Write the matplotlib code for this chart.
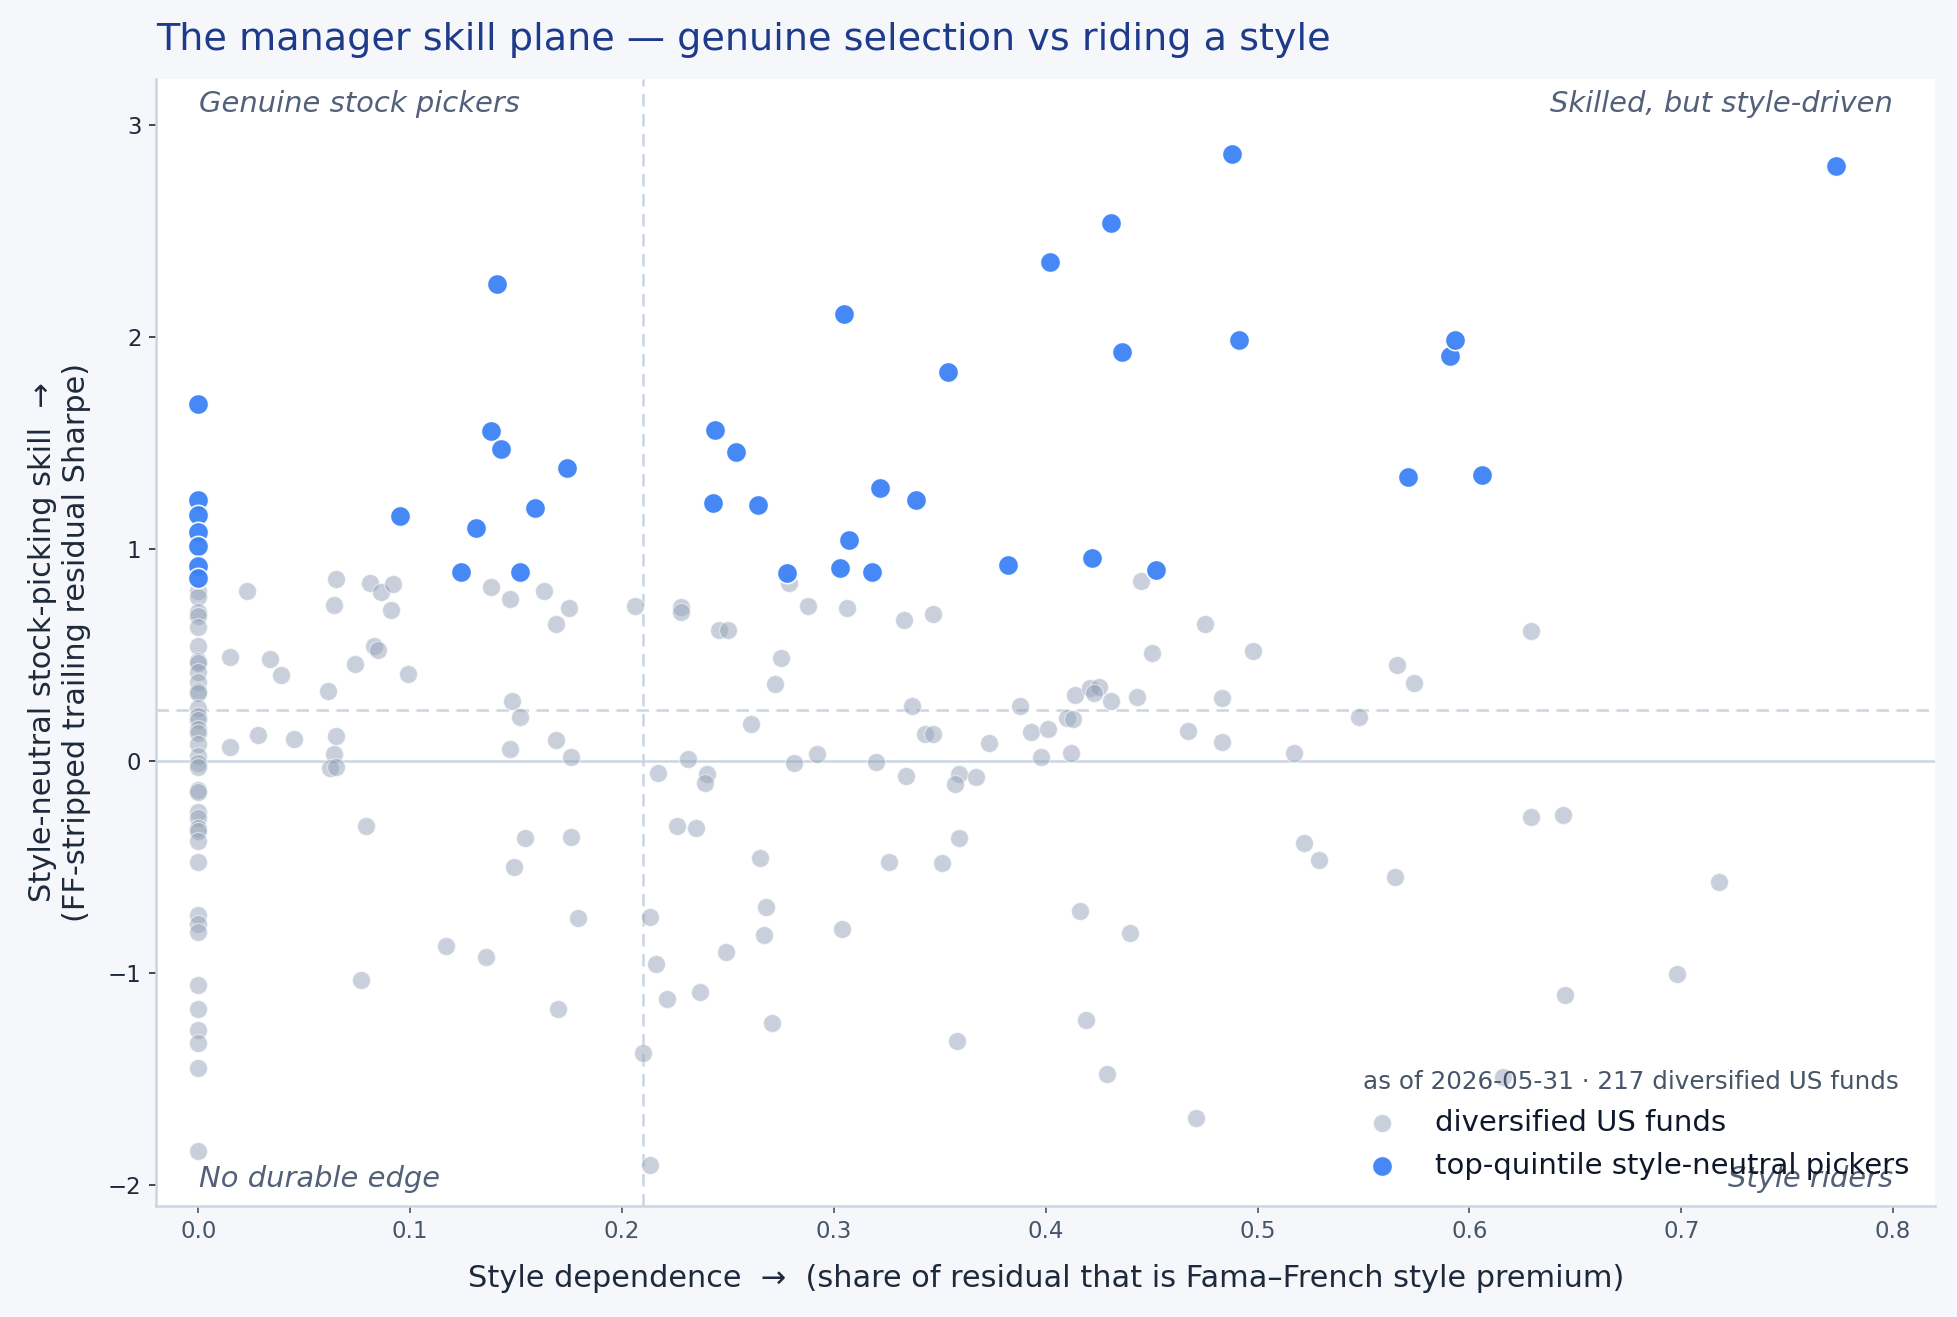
import numpy as np
import matplotlib.pyplot as plt

# funds sitting at zero style dependence
zero_grey_y = [0.80, 0.77, 0.70, 0.68, 0.63, 0.54, 0.47, 0.46, 0.42, 0.37, 0.33, 0.32,
               0.25, 0.21, 0.19, 0.15, 0.13, 0.08, 0.02, -0.01, -0.03, -0.14, -0.15,
               -0.24, -0.27, -0.32, -0.33, -0.38, -0.48, -0.73, -0.77, -0.81, -1.06,
               -1.17, -1.27, -1.33, -1.45, -1.84]

grey_x = [0.023, 0.065, 0.081, 0.086, 0.092, 0.064, 0.091, 0.138, 0.147, 0.163, 0.175,
          0.169, 0.206, 0.015, 0.034, 0.039, 0.083, 0.085, 0.074, 0.099, 0.061, 0.148,
          0.152, 0.015, 0.028, 0.045, 0.065, 0.064, 0.062, 0.065, 0.147, 0.169, 0.176,
          0.079, 0.154, 0.176, 0.149, 0.179,
          0.279, 0.228, 0.228, 0.246, 0.250, 0.288, 0.306, 0.333, 0.347, 0.275, 0.272,
          0.337, 0.388, 0.414, 0.421, 0.425, 0.423, 0.431, 0.261, 0.343, 0.347, 0.373,
          0.393, 0.401, 0.410, 0.413, 0.398, 0.412, 0.231, 0.217, 0.240, 0.239, 0.281,
          0.292, 0.320, 0.334, 0.359, 0.357, 0.367, 0.226, 0.235, 0.265, 0.326, 0.351,
          0.359, 0.268, 0.416,
          0.445, 0.475, 0.450, 0.498, 0.629, 0.566, 0.574, 0.443, 0.483, 0.548, 0.467,
          0.483, 0.517, 0.629, 0.644, 0.522, 0.529, 0.565, 0.440,
          0.718, 0.698, 0.645, 0.616,
          0.117, 0.136, 0.077, 0.170, 0.213, 0.216, 0.221, 0.237, 0.249, 0.267, 0.271,
          0.210, 0.213, 0.304, 0.419, 0.358, 0.429, 0.471]
grey_y = [0.798, 0.857, 0.838, 0.794, 0.831, 0.735, 0.711, 0.821, 0.763, 0.798, 0.720,
          0.645, 0.727, 0.489, 0.477, 0.404, 0.543, 0.522, 0.456, 0.409, 0.330, 0.282,
          0.206, 0.064, 0.121, 0.102, 0.118, 0.031, -0.035, -0.030, 0.055, 0.098, 0.017,
          -0.308, -0.365, -0.360, -0.502, -0.742,
          0.837, 0.724, 0.703, 0.617, 0.617, 0.728, 0.719, 0.664, 0.692, 0.485, 0.360,
          0.260, 0.260, 0.310, 0.341, 0.346, 0.319, 0.283, 0.173, 0.126, 0.126, 0.083,
          0.137, 0.149, 0.201, 0.197, 0.017, 0.036, 0.008, -0.058, -0.063, -0.105, -0.011,
          0.031, -0.005, -0.074, -0.063, -0.110, -0.077, -0.308, -0.318, -0.459, -0.478,
          -0.483, -0.365, -0.690, -0.709,
          0.848, 0.645, 0.508, 0.518, 0.612, 0.452, 0.367, 0.302, 0.297, 0.206, 0.140,
          0.088, 0.036, -0.266, -0.256, -0.389, -0.469, -0.549, -0.813,
          -0.571, -1.007, -1.107, -1.490,
          -0.875, -0.927, -1.035, -1.172, -0.736, -0.960, -1.125, -1.092, -0.903, -0.823,
          -1.238, -1.380, -1.908, -0.794, -1.224, -1.323, -1.479, -1.686]

zero_blue_y = [1.68, 1.23, 1.16, 1.08, 1.01, 0.92, 0.86]
blue_x = [0.141, 0.138, 0.143, 0.095, 0.131, 0.124, 0.152, 0.159, 0.174, 0.244, 0.254,
          0.243, 0.264, 0.278, 0.305, 0.307, 0.303, 0.318, 0.322, 0.339, 0.354, 0.382,
          0.402, 0.431, 0.436, 0.422, 0.452, 0.488, 0.491, 0.571, 0.591, 0.593, 0.606,
          0.773]
blue_y = [2.25, 1.555, 1.472, 1.154, 1.095, 0.889, 0.889, 1.19, 1.378, 1.561, 1.455,
          1.213, 1.207, 0.883, 2.108, 1.042, 0.907, 0.889, 1.284, 1.231, 1.832, 0.925,
          2.35, 2.538, 1.926, 0.954, 0.901, 2.862, 1.985, 1.337, 1.908, 1.985, 1.349,
          2.803]

style_cut = 0.21
skill_cut = 0.24

gx = np.concatenate([np.zeros(len(zero_grey_y)), grey_x])
gy = np.concatenate([zero_grey_y, grey_y])
bx = np.concatenate([np.zeros(len(zero_blue_y)), blue_x])
by = np.concatenate([zero_blue_y, blue_y])

fig = plt.figure(figsize=(1957 / 150, 1317 / 150), dpi=150, facecolor='#f5f7fb')
ax = fig.add_axes([0.0797, 0.0844, 0.9093, 0.8556])
ax.set_facecolor('white')

ax.axhline(0, color='#cbd5e1', lw=1.2, zorder=1)
ax.axhline(skill_cut, color='#cbd5e1', lw=1.2, ls=(0, (5, 3)), zorder=1)
ax.axvline(style_cut, color='#cbd5e1', lw=1.2, ls=(0, (5, 3)), zorder=1)

ax.scatter(gx, gy, s=75, color='#94a3b8', alpha=0.5, edgecolor='white', linewidth=0.6,
           label='diversified US funds', zorder=2)
ax.scatter(bx, by, s=95, color='#3b82f6', alpha=0.95, edgecolor='white', linewidth=0.8,
           label='top-quintile style-neutral pickers', zorder=3)

ax.set_xlim(-0.02, 0.82)
ax.set_ylim(-2.10, 3.215)
ax.set_xticks(np.arange(0, 0.81, 0.1))
ax.set_yticks([-2, -1, 0, 1, 2, 3])

for s in ['top', 'right']:
    ax.spines[s].set_visible(False)
for s in ['left', 'bottom']:
    ax.spines[s].set_color('#cbd5e1')
    ax.spines[s].set_linewidth(1.2)
ax.tick_params(axis='x', colors='#475569', labelsize=11)
ax.tick_params(axis='y', colors='#1e293b', labelsize=11)

ax.set_xlabel('Style dependence  \u2192  (share of residual that is Fama\u2013French style premium)',
              fontsize=14.6, color='#1e293b', labelpad=10)
ax.set_ylabel('Style-neutral stock-picking skill  \u2192\n(FF-stripped trailing residual Sharpe)',
              fontsize=14.6, color='#1e293b', labelpad=8)
ax.set_title('The manager skill plane \u2014 genuine selection vs riding a style',
             loc='left', fontsize=18.3, color='#1e3a8a', pad=14)

corner = dict(transform=ax.transAxes, fontsize=13.9, style='italic', color='#526078')
ax.text(0.024, 0.99, 'Genuine stock pickers', ha='left', va='top', **corner)
ax.text(0.976, 0.99, 'Skilled, but style-driven', ha='right', va='top', **corner)
ax.text(0.024, 0.011, 'No durable edge', ha='left', va='bottom', **corner)
ax.text(0.976, 0.011, 'Style riders', ha='right', va='bottom', **corner)

leg = ax.legend(loc='lower right', frameon=False, fontsize=14, scatterpoints=1,
                title='as of 2026-05-31 \u00b7 217 diversified US funds',
                title_fontsize=11.8, borderaxespad=0.5)
leg.get_title().set_color('#475569')
for t in leg.get_texts():
    t.set_color('#0f172a')

fig.savefig('out.png', dpi=150, facecolor=fig.get_facecolor())
